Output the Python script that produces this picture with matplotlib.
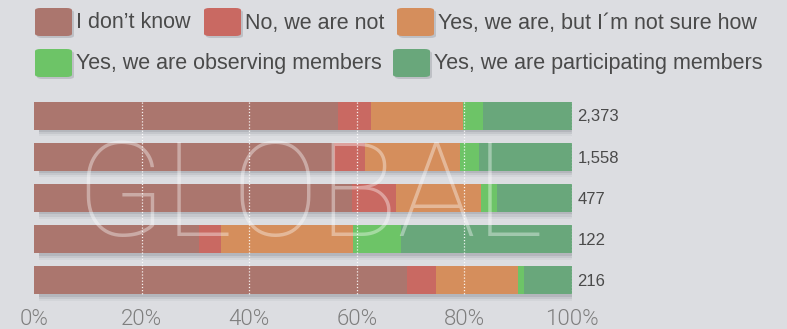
import matplotlib.pyplot as plt
from matplotlib.patches import FancyBboxPatch
import numpy as np

# Survey answers, percent of respondents per group (rows top to bottom)
answers = ["I don\u2019t know", "No, we are not", "Yes, we are, but I\u00b4m not sure how",
           "Yes, we are observing members", "Yes, we are participating members"]
colors = ["#ab766e", "#c96962", "#d58e5c", "#6dc467", "#69a77b"]
counts = ["2,373", "1,558", "477", "122", "216"]

dont_know = [56.5, 55.8, 59.1, 30.7, 69.3]
not_member = [6.1, 5.7, 8.2, 4.1, 5.4]
not_sure = [17.1, 17.7, 15.8, 24.5, 15.3]
observing = [3.8, 3.5, 3.0, 8.9, 1.1]
participating = [16.5, 17.3, 13.9, 31.8, 8.9]

series = [dont_know, not_member, not_sure, observing, participating]
ticks = [0, 20, 40, 60, 80, 100]
tick_labels = ["0%", "20%", "40%", "60%", "80%", "100%"]

bg = "#dcdde1"
fig = plt.figure(figsize=(7.87, 3.29), dpi=100, facecolor=bg)
ax = fig.add_axes([34 / 787, 28 / 329, 538 / 787, 206 / 329])
ax.set_facecolor(bg)

y = np.arange(len(counts))
h = 0.68

# soft drop shadow under each bar
for dy, a in [(0.06, 0.14), (0.11, 0.10), (0.16, 0.06)]:
    ax.barh(y + dy, 99, height=h, left=1, color="#50555f", alpha=a, zorder=1, linewidth=0)

left = np.zeros(len(counts))
for vals, c in zip(series, colors):
    ax.barh(y, vals, height=h, left=left, color=c, zorder=2, linewidth=0)
    left += np.array(vals)

# dotted white gridlines over the bars
ax.vlines(ticks[1:], -0.5 + (1 - h) / 2, len(counts) - 0.5 - (1 - h) / 2,
          colors="white", linestyles=(0, (1, 1.5)), linewidth=0.9, alpha=0.9, zorder=3)

for yi, n in zip(y, counts):
    ax.text(101, yi + 0.03, n, va="center", ha="left", fontsize=12,
            family="Liberation Sans", color="#4a4a4a")

ax.set_xlim(0, 100)
ax.set_ylim(len(counts) - 0.5, -0.5)
ax.set_xticks(ticks)
ax.set_xticklabels(tick_labels, family="Roboto", fontweight=300, fontsize=16, color="#7e7e7e")
ax.tick_params(axis="x", length=0, pad=6)
ax.set_yticks([])
for s in ax.spines.values():
    s.set_visible(False)

# faint watermark
fig.text(309 / 787, 1 - 200 / 329, "GLOBAL", ha="center", va="center", fontsize=94,
         family="Roboto", fontweight=100, color="white", alpha=0.38, zorder=10)

# legend: rounded swatches with shadows
legend_pos = [(35, 8), (204, 8), (397, 8), (35, 49), (393, 49)]
W, H = 787, 329
for (x0, y0), lab, c in zip(legend_pos, answers, colors):
    sw, sh = 37, 28
    shadow = FancyBboxPatch(((x0 + 2) / W, 1 - (y0 + sh + 2) / H), sw / W, sh / H,
                            boxstyle="round,pad=0,rounding_size=0.007", transform=fig.transFigure,
                            facecolor="#666a75", edgecolor="none", alpha=0.25)
    fig.patches.append(shadow)
    box = FancyBboxPatch((x0 / W, 1 - (y0 + sh) / H), sw / W, sh / H,
                         boxstyle="round,pad=0,rounding_size=0.007", transform=fig.transFigure,
                         facecolor=c, edgecolor="none")
    fig.patches.append(box)
    fig.text((x0 + sw + 4) / W, 1 - (y0 + sh / 2 + 1) / H, lab, ha="left", va="center",
             fontsize=15.5, family="Liberation Sans", color="#4a4a4a")

fig.savefig("out.png", dpi=100, facecolor=bg)
